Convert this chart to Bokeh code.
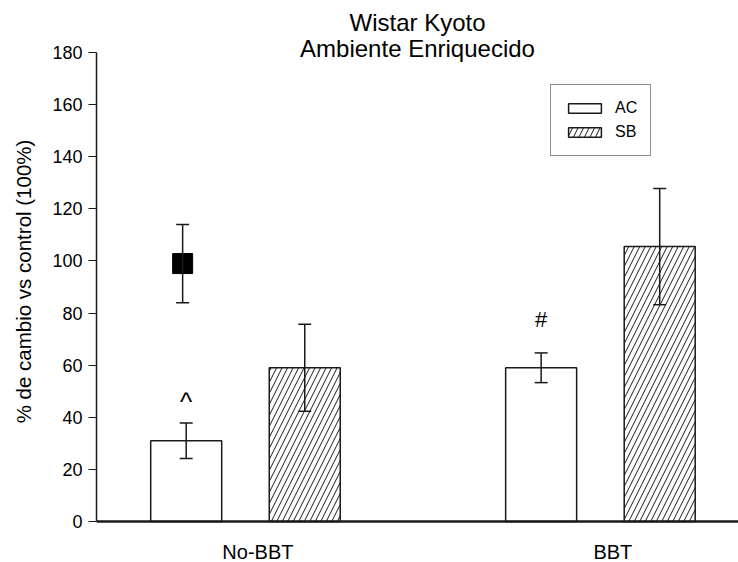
from bokeh.plotting import figure
from bokeh.models import (Range1d, FixedTicker, Whisker, ColumnDataSource, Label,
                          Legend, LegendItem, TeeHead)
from bokeh.core.properties import value
from bokeh.embed import file_html
from bokeh.resources import INLINE

# ---- data ----
groups = ["No-BBT", "BBT"]
ac_mean = [31, 59]
ac_err = [6.8, 5.7]
sb_mean = [59, 105.5]
sb_err = [16.7, 22.3]
control_mean = [99]
control_err = [15]
marks = ["^", "#"]
mark_level = [46, 77.5]
series = ["AC", "SB"]
title_lines = ["Wistar Kyoto", "Ambiente Enriquecido"]
y_ticks = list(range(0, 181, 20))

# ---- layout constants ----
OFF = 0.167
BW = 0.2
LABEL_SHIFT = 0.035
CONTROL_SHIFT = -0.01
MARK_SIZES = ["26px", "22px"]
FONT = "Liberation Sans"
DARK = "#1a1a1a"

gx = [i + 1 for i in range(len(groups))]
ac_x = [g - OFF for g in gx]
sb_x = [g + OFF for g in gx]

p = figure(width=738, height=562, output_backend="svg", toolbar_location=None,
           x_range=Range1d(0.5803, 2.389), y_range=Range1d(-15.74, 199.96),
           min_border_left=96, min_border_top=0, min_border_bottom=0, min_border_right=0)
p.outline_line_color = None
p.xgrid.grid_line_color = None
p.ygrid.grid_line_color = None
p.background_fill_color = "white"

ac_src = ColumnDataSource(dict(x=ac_x, top=ac_mean, lo=[m - e for m, e in zip(ac_mean, ac_err)],
                               hi=[m + e for m, e in zip(ac_mean, ac_err)]))
sb_src = ColumnDataSource(dict(x=sb_x, top=sb_mean, lo=[m - e for m, e in zip(sb_mean, sb_err)],
                               hi=[m + e for m, e in zip(sb_mean, sb_err)]))
ctl_src = ColumnDataSource(dict(x=[ac_x[0] + CONTROL_SHIFT], y=control_mean,
                                lo=[m - e for m, e in zip(control_mean, control_err)],
                                hi=[m + e for m, e in zip(control_mean, control_err)]))
mark_src = ColumnDataSource(dict(x=ac_x, y=mark_level, text=marks, size=MARK_SIZES))

r_ac = p.vbar(x="x", top="top", bottom=0, width=BW, source=ac_src,
              fill_color="white", line_color=DARK, line_width=1.5)
r_sb = p.vbar(x="x", top="top", bottom=0, width=BW, source=sb_src,
              fill_color="white", line_color=DARK, line_width=1.5,
              hatch_pattern="/", hatch_scale=11, hatch_weight=1, hatch_color=DARK)

for src in (ac_src, sb_src, ctl_src):
    w = Whisker(base="x", lower="lo", upper="hi", source=src, line_color=DARK, line_width=1.5,
                upper_head=TeeHead(size=13, line_color=DARK, line_width=1.5),
                lower_head=TeeHead(size=13, line_color=DARK, line_width=1.5),
                level="overlay")
    p.add_layout(w)

p.scatter(x="x", y="y", source=ctl_src, marker="square", size=20, fill_color="black",
          line_color="black", level="overlay")

p.text(x="x", y="y", text="text", source=mark_src, text_align="center",
       text_baseline="middle", text_font=value(FONT), text_font_size="size",
       text_color="black")

# title
tx = (p.x_range.start + p.x_range.end) / 2
for i, t in enumerate(title_lines):
    p.add_layout(Label(x=tx, y=191.7 - 10 * i, text=t, text_align="center",
                       text_baseline="middle", text_font=FONT, text_font_size="24px",
                       text_color="black"))

# axes
p.yaxis.ticker = FixedTicker(ticks=y_ticks)
p.yaxis.bounds = (0, 180)
p.yaxis.axis_label = "% de cambio vs control (100%)"
p.yaxis.axis_label_text_font = FONT
p.yaxis.axis_label_text_font_size = "20.5px"
p.yaxis.axis_label_text_font_style = "normal"
p.yaxis.axis_label_text_color = "black"
p.yaxis.axis_label_standoff = 14
p.yaxis.major_label_text_font = FONT
p.yaxis.major_label_text_font_size = "18px"
p.yaxis.major_label_text_color = "black"
p.yaxis.major_tick_out = 8
p.yaxis.major_tick_in = 0
p.yaxis.major_tick_line_color = DARK
p.yaxis.minor_tick_line_color = None
p.yaxis.axis_line_color = DARK
p.yaxis.axis_line_width = 1.5
p.yaxis.major_label_standoff = 6

p.xaxis.fixed_location = 0
p.xaxis.ticker = FixedTicker(ticks=[g + LABEL_SHIFT for g in gx])
p.xaxis.major_label_overrides = {g + LABEL_SHIFT: n for g, n in zip(gx, groups)}
p.xaxis.major_tick_line_color = None
p.xaxis.minor_tick_line_color = None
p.xaxis.axis_line_color = DARK
p.xaxis.axis_line_width = 2.5
p.xaxis.major_label_text_font = FONT
p.xaxis.major_label_text_font_size = "20px"
p.xaxis.major_label_text_color = "black"
p.xaxis.major_label_standoff = 14

legend = Legend(items=[LegendItem(label=series[0], renderers=[r_ac]),
                       LegendItem(label=series[1], renderers=[r_sb])],
                location=(454, 406), glyph_width=41, glyph_height=12,
                label_text_font=FONT, label_text_font_size="16px", label_text_color="black",
                label_standoff=10, label_height=20, spacing=4, padding=13, margin=0,
                border_line_color=DARK, border_line_width=1.5, background_fill_alpha=1)
p.add_layout(legend)

open("out.html", "w").write(file_html(p, INLINE))
